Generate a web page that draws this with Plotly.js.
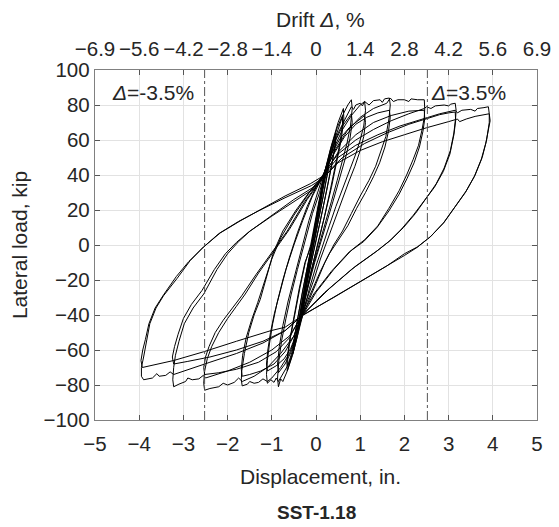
<!DOCTYPE html>
<html>
<head>
<meta charset="utf-8">
<script src="https://cdn.plot.ly/plotly-3.0.1.min.js"></script>
<style>html,body{margin:0;padding:0;background:#fff;}</style>
</head>
<body>
<div id="chart" style="width:559px;height:527px;"></div>
<script>
// ---- axis data ----
const dispTicks = [-5,-4,-3,-2,-1,0,1,2,3,4,5];
const dispTickText = ['\u22125','\u22124','\u22123','\u22122','\u22121','0','1','2','3','4','5'];
const driftTickText = ['\u22126.9','\u22125.6','\u22124.2','\u22122.8','\u22121.4','0','1.4','2.8','4.2','5.6','6.9'];
const loadTicks = [-100,-80,-60,-40,-20,0,20,40,60,80,100];
const loadTickText = ['\u2212100','\u221280','\u221260','\u221240','\u221220','0','20','40','60','80','100'];
const wallHeightIn = 72;          // drift % = displacement / height * 100
const driftMarks = [-3.5, 3.5];   // dash-dot reference lines, drift %
const driftMarkText = ['-3.5%', '3.5%'];

// ---- hysteresis cycles: displacement (in.) and load (kip) ----
// amplitude 3.9 in., cycle 1
const d39a = [0.2,0.5,0.9,1.4,1.9,2.4,2.8,3.15,3.2,3.3,3.5,3.6,3.65,3.8,3.9,
  3.92,3.92,3.86,3.76,3.6,3.4,3.15,2.9,2.6,2.3,2.0,1.6,1.0,0.4,-0.3,
  -0.7,-1.2,-1.8,-2.4,-2.9,-3.22,-3.3,-3.4,-3.55,-3.6,-3.7,-3.9,-3.95,
  -3.95,-3.9,-3.84,-3.76,-3.62,-3.45,-3.14,-2.85,-2.54,-2.16,-1.7,-1.26,-0.7,-0.13,0.2];
const f39a = [41,50,57,63,68,72,75,77,75.5,77,77.5,76.5,78,78.5,79,
  75,70,60,50,40,31,22,13,5,-1,-5,-12,-21,-30,-40,
  -49,-56,-62,-67,-71,-74,-72.5,-74.5,-75,-73.5,-76,-77,-75,
  -70,-64,-56,-45,-36,-29,-19,-9,-1,7,14,20,28,35,40];
// amplitude 3.9 in., cycle 2
const d39b = [0.15,0.5,1.0,1.5,2.0,2.5,3.0,3.2,3.25,3.4,3.6,3.8,3.92,
  3.94,3.9,3.84,3.74,3.58,3.38,3.12,2.88,2.58,2.28,2.0,1.4,0.8,0.2,-0.35,
  -0.7,-1.03,-1.8,-2.54,-3.22,-3.6,-3.93,
  -3.96,-3.92,-3.86,-3.78,-3.64,-3.45,-3.16,-2.88,-2.58,-2.2,-1.75,-1.3,-0.7,-0.1,0.15];
const f39b = [38,47,54,59,63,67,70.5,72,70.5,72,73.5,74.5,75,
  71,66,58,49,39,30,21,12.5,4.5,-1.5,-6,-15,-24,-33,-41,
  -47,-49,-55,-61,-66,-68,-70,
  -66,-60,-54,-45,-36,-28.5,-18,-9.5,-2,6.5,13.5,19.5,27,34,38];
// amplitude 3.2 in., cycle 1
const d32a = [0.2,0.5,0.9,1.3,1.7,2.1,2.45,2.5,2.6,2.7,2.9,3.0,3.05,3.15,
  3.17,3.16,3.12,3.04,2.9,2.72,2.5,2.25,1.98,1.7,1.4,0.9,0.3,-0.3,
  -0.6,-1.0,-1.5,-2.0,-2.5,-2.55,-2.65,-2.8,-2.9,-2.95,-3.1,-3.22,
  -3.24,-3.22,-3.18,-3.1,-2.98,-2.78,-2.54,-2.24,-2.0,-1.75,-1.49,-1.0,-0.5,0.0,0.2];
const f32a = [42,52,60,66,71,75,78,79,78,79.5,80,79.5,80.5,81,
  77,73,64,54,44,35,27,18,10,3,-3,-12,-25,-40,
  -52,-60,-67,-72,-76,-74.5,-76.5,-77,-76,-78,-79.5,-81,
  -77,-70,-63,-55,-45,-36,-28,-14,-5,2,8,17,26,34,40];
// amplitude 3.2 in., cycle 2
const d32b = [0.15,0.6,1.1,1.6,2.1,2.5,2.8,3.0,3.15,
  3.16,3.12,3.03,2.88,2.68,2.45,2.2,1.93,1.65,1.35,0.8,0.2,-0.35,
  -0.7,-1.2,-1.8,-2.4,-2.9,-3.22,
  -3.25,-3.2,-3.12,-3.0,-2.82,-2.58,-2.3,-2.05,-1.8,-1.52,-1.0,-0.5,0.0,0.15];
const f32b = [39,50,58,64,69,72,74.5,75.5,76,
  71,63,52,42,33,25,17,9,2,-4,-14,-27,-41,
  -49,-55,-60,-64,-66.5,-68,
  -64,-58,-51,-42,-34,-26,-14,-5,1.5,7.5,16.5,25,33,39];
// amplitude 2.5 in., cycle 1
const d25a = [0.2,0.45,0.7,1.0,1.3,1.6,1.68,1.75,1.85,2.0,2.1,2.15,2.3,2.45,
  2.46,2.45,2.4,2.32,2.2,2.05,1.88,1.65,1.4,1.1,0.8,0.4,0.0,-0.3,
  -0.5,-0.8,-1.1,-1.4,-1.67,-1.75,-1.85,-2.0,-2.1,-2.2,-2.4,-2.52,
  -2.54,-2.52,-2.46,-2.36,-2.2,-2.0,-1.8,-1.6,-1.3,-1.0,-0.6,-0.2,0.2];
const f25a = [42,55,65,73,78,81,84,82,83,83,82,83.5,83,83,
  78,73,66,57,49,40,31,21,11,3,-3,-14,-27,-40,
  -52,-62,-70,-75,-78,-76,-78.5,-80,-79,-81,-82,-83,
  -79,-72,-65,-58,-50,-42,-35,-28,-16,-5,9,26,40];
// amplitude 2.5 in., cycle 2
const d25b = [0.15,0.5,0.9,1.3,1.7,2.1,2.45,
  2.46,2.42,2.34,2.22,2.06,1.88,1.65,1.38,1.08,0.75,0.35,-0.05,-0.35,
  -0.6,-0.9,-1.3,-1.8,-2.2,-2.52,
  -2.54,-2.5,-2.42,-2.28,-2.1,-1.9,-1.68,-1.36,-1.05,-0.65,-0.25,0.15];
const f25b = [39,53,63,70,74,76.5,77,
  72,65,56,47,38,29,19.5,10,2,-4,-15,-28,-41,
  -53,-61,-67,-71,-73,-74,
  -70,-64,-58,-50,-43,-36,-29,-17,-6,8,25,39];
// amplitude 1.65 in., cycle 1
const d16a = [0.2,0.4,0.6,0.8,1.0,1.1,1.2,1.3,1.45,1.5,1.55,1.66,
  1.68,1.65,1.58,1.48,1.35,1.2,1.0,0.8,0.6,0.4,0.2,0.0,-0.15,-0.3,
  -0.45,-0.6,-0.8,-1.0,-1.1,-1.2,-1.3,-1.4,-1.5,-1.55,-1.67,
  -1.69,-1.68,-1.62,-1.52,-1.4,-1.26,-1.1,-0.96,-0.75,-0.45,-0.1,0.2];
const f16a = [42,55,66,74,80,82,80,82.5,83,81.5,83.5,84,
  80,72,62,54,45,37,28,18,8,0,-10,-22,-31,-40,
  -52,-62,-70,-76,-78,-76.5,-78.5,-79,-78,-79.5,-80.5,
  -77,-72,-62,-50,-40,-31,-17,-4,8,20,32,41];
// amplitude 1.65 in., cycle 2
const d16b = [0.15,0.4,0.65,0.9,1.15,1.4,1.66,
  1.68,1.64,1.56,1.44,1.3,1.12,0.92,0.72,0.52,0.3,0.1,-0.1,-0.35,
  -0.5,-0.7,-0.95,-1.25,-1.5,-1.67,
  -1.69,-1.66,-1.58,-1.46,-1.32,-1.16,-1.0,-0.8,-0.5,-0.15,0.15];
const f16b = [39,52,62,69,73,75.5,77,
  73,65,56,47,39,30,21,11,3,-5,-15,-27,-41,
  -52,-61,-68,-72,-74,-75,
  -71,-63,-53,-43,-33,-21,-8,4,17,30,39];
// amplitude 1.1 in., cycle 1
const d11a = [0.2,0.35,0.5,0.65,0.8,0.85,0.9,1.0,1.05,1.1,
  1.12,1.08,1.0,0.9,0.78,0.62,0.45,0.3,0.15,0.0,-0.15,-0.3,
  -0.4,-0.5,-0.62,-0.75,-0.85,-0.9,-0.95,-1.02,-1.1,
  -1.12,-1.1,-1.05,-0.98,-0.88,-0.75,-0.6,-0.42,-0.2,0.0,0.2];
const f11a = [42,54,64,72,79,77.5,80,81,79.5,82,
  77,68,60,52,44,34,22,11,0,-12,-25,-40,
  -50,-60,-68,-74,-78,-76,-78.5,-77,-79,
  -74,-66,-56,-45,-33,-20,-7,7,22,33,42];
// amplitude 1.1 in., cycle 2
const d11b = [0.15,0.35,0.55,0.75,0.95,1.1,
  1.12,1.08,1.0,0.88,0.74,0.58,0.42,0.26,0.1,-0.05,-0.2,-0.35,
  -0.45,-0.57,-0.72,-0.9,-1.1,
  -1.12,-1.09,-1.03,-0.94,-0.82,-0.68,-0.5,-0.3,-0.08,0.15];
const f11b = [39,52,61,67,71,74,
  70,62,54,45,36,25,14,4,-8,-20,-31,-41,
  -51,-59,-65,-69,-72,
  -68,-60,-50,-39,-27,-14,0,14,28,39];
// amplitude 0.8 in., cycle 1
const d08a = [0.2,0.35,0.5,0.62,0.72,0.8,
  0.82,0.78,0.7,0.6,0.48,0.35,0.2,0.05,-0.1,-0.22,-0.32,
  -0.42,-0.53,-0.65,-0.75,-0.8,-0.85,
  -0.87,-0.84,-0.78,-0.68,-0.56,-0.42,-0.26,-0.08,0.08,0.2];
const f08a = [42,55,66,75,80,83,
  78,68,58,48,37,25,12,-1,-15,-28,-40,
  -52,-63,-72,-78,-76.5,-81,
  -76,-66,-55,-42,-28,-14,1,18,30,42];
// amplitude 0.8 in., cycle 2
const d08b = [0.15,0.3,0.45,0.6,0.8,
  0.82,0.77,0.68,0.56,0.42,0.28,0.12,-0.03,-0.18,-0.35,
  -0.45,-0.56,-0.7,-0.85,
  -0.87,-0.83,-0.75,-0.63,-0.5,-0.34,-0.16,0.0,0.15];
const f08b = [39,50,60,68,75,
  70,61,51,40,28,16,3,-10,-24,-41,
  -52,-61,-68,-73,
  -68,-58,-46,-32,-19,-4,14,27,39];
// amplitude 0.6 in.
const d06a = [-0.1,0.05,0.2,0.35,0.5,0.62,0.63,0.57,0.47,0.35,0.2,0.05,-0.1,-0.25,-0.4,-0.53,-0.65,-0.66,-0.6,-0.5,-0.38,-0.25,-0.1];
const f06a = [0,22,42,57,70,78,72,60,47,33,17,2,-14,-30,-48,-62,-72,-66,-55,-41,-25,-10,0];
const d06b = [-0.12,0.03,0.18,0.33,0.48,0.6,0.6,0.54,0.44,0.32,0.18,0.03,-0.12,-0.27,-0.42,-0.54,-0.64,-0.64,-0.58,-0.48,-0.36,-0.24,-0.12];
const f06b = [0,21,40,55,67,74,69,58,45,31,15,0,-16,-32,-49,-61,-69,-64,-53,-39,-24,-10,0];
// amplitude 0.45 in.
const d045a = [-0.1,0.05,0.2,0.33,0.45,0.44,0.36,0.25,0.1,-0.05,-0.2,-0.35,-0.45,-0.52,-0.51,-0.43,-0.32,-0.2,-0.1];
const f045a = [0,22,40,54,64,58,46,32,14,-3,-21,-40,-53,-62,-56,-44,-28,-13,0];
const d045b = [-0.09,0.06,0.21,0.34,0.44,0.43,0.35,0.24,0.09,-0.06,-0.21,-0.36,-0.46,-0.51,-0.5,-0.42,-0.31,-0.19,-0.09];
const f045b = [0,21,39,52,61,56,45,31,13,-4,-22,-41,-53,-60,-55,-43,-27,-12,0];
// amplitude 0.3 in.
const d03a = [-0.1,0.05,0.18,0.3,0.28,0.18,0.05,-0.1,-0.25,-0.4,-0.38,-0.28,-0.18,-0.1];
const f03a = [0,20,37,50,44,30,13,-5,-25,-48,-42,-27,-12,0];
const d03b = [-0.08,0.06,0.19,0.29,0.27,0.17,0.04,-0.11,-0.26,-0.39,-0.37,-0.27,-0.17,-0.08];
const f03b = [0,19,36,47,42,29,12,-6,-26,-46,-40,-26,-11,0];
// amplitude 0.15 in.
const d015 = [-0.1,0.02,0.15,0.12,0.02,-0.1,-0.2,-0.3,-0.27,-0.17,-0.1];
const f015 = [0,15,33,26,12,-4,-20,-36,-28,-12,0];

const cycles = [
  [d015,f015],[d03a,f03a],[d03b,f03b],[d045a,f045a],[d045b,f045b],
  [d06a,f06a],[d06b,f06b],[d08a,f08a],[d08b,f08b],[d11a,f11a],[d11b,f11b],
  [d16a,f16a],[d16b,f16b],[d25a,f25a],[d25b,f25b],[d32a,f32a],[d32b,f32b],
  [d39a,f39a],[d39b,f39b]
];

const FONT = 'Liberation Sans, Arial, Helvetica, sans-serif';
const TXT = '#262626';
const TICKFONT = {family: FONT, size: 20.5, color: TXT};
const TITLEFONT = {family: FONT, size: 21, color: TXT};

const traces = cycles.map(c => ({
  type: 'scatter', mode: 'lines', x: c[0], y: c[1],
  line: {color: '#000', width: 1}, hoverinfo: 'skip', showlegend: false,
  xaxis: 'x', yaxis: 'y'
}));

// drift reference lines, drawn on the top (drift) axis
driftMarks.forEach(v => {
  traces.push({
    type: 'scatter', mode: 'lines', x: [v, v], y: [-100, 100],
    line: {color: '#555', width: 1, dash: 'dashdot'},
    hoverinfo: 'skip', showlegend: false, xaxis: 'x2', yaxis: 'y'
  });
});

const driftMax = 5 * 100 / wallHeightIn;
const driftRange = [-driftMax * 1.000001, driftMax * 1.000001];
const driftTickVals = dispTicks.map(v => v * 100 / wallHeightIn);

const layout = {
  width: 559, height: 527,
  margin: {l: 95, r: 22, t: 70, b: 107},
  paper_bgcolor: '#fff', plot_bgcolor: '#fff',
  font: {family: FONT, size: 21, color: TXT},
  showlegend: false,
  xaxis: {
    range: [-5, 5], tickvals: dispTicks, ticktext: dispTickText,
    ticks: 'inside', ticklen: 5, tickcolor: '#555',
    showline: true, linecolor: '#808080', linewidth: 1.2, mirror: true,
    showgrid: true, gridcolor: '#e2e2e2', gridwidth: 1, zeroline: false,
    ticklabelstandoff: 5, tickfont: TICKFONT
  },
  xaxis2: {
    overlaying: 'x', side: 'top', range: driftRange,
    tickvals: driftTickVals, ticktext: driftTickText,
    ticks: 'inside', ticklen: 5, tickcolor: '#555',
    showline: false, showgrid: false, zeroline: false,
    ticklabelstandoff: 9, ticklabeloverflow: 'allow', tickfont: TICKFONT
  },
  yaxis: {
    range: [-100, 100], tickvals: loadTicks, ticktext: loadTickText,
    ticks: 'inside', ticklen: 5, tickcolor: '#555',
    showline: true, linecolor: '#808080', linewidth: 1.2, mirror: 'ticks',
    showgrid: true, gridcolor: '#e2e2e2', gridwidth: 1, zeroline: false,
    tickfont: TICKFONT,
    title: {text: 'Lateral load, kip', font: TITLEFONT, standoff: 10}
  },
  annotations: [
    {xref: 'paper', yref: 'paper', x: 0.511, y: -0.16, xanchor: 'center', yanchor: 'middle',
     text: 'Displacement, in.', showarrow: false, font: TITLEFONT},
    {xref: 'paper', yref: 'paper', x: 0.511, y: 1.1457, xanchor: 'center', yanchor: 'middle',
     text: 'Drift <i>Δ</i>, %', showarrow: false, font: TITLEFONT},
    {xref: 'x2', yref: 'y', x: driftMarks[0], y: 87, xanchor: 'right', yanchor: 'middle',
     xshift: -9, text: '<i>Δ</i>=' + driftMarkText[0], showarrow: false, font: TITLEFONT},
    {xref: 'x2', yref: 'y', x: driftMarks[1], y: 87, xanchor: 'left', yanchor: 'middle',
     xshift: 2, text: '<i>Δ</i>=' + driftMarkText[1], showarrow: false, font: TITLEFONT},
    {xref: 'paper', yref: 'paper', x: 0.5, y: -0.2657, xanchor: 'center', yanchor: 'middle',
     text: '<b>SST-1.18</b>', showarrow: false, font: {family: FONT, size: 19, color: TXT}}
  ]
};

Plotly.newPlot('chart', traces, layout, {displayModeBar: false, staticPlot: true});
</script>
</body>
</html>
